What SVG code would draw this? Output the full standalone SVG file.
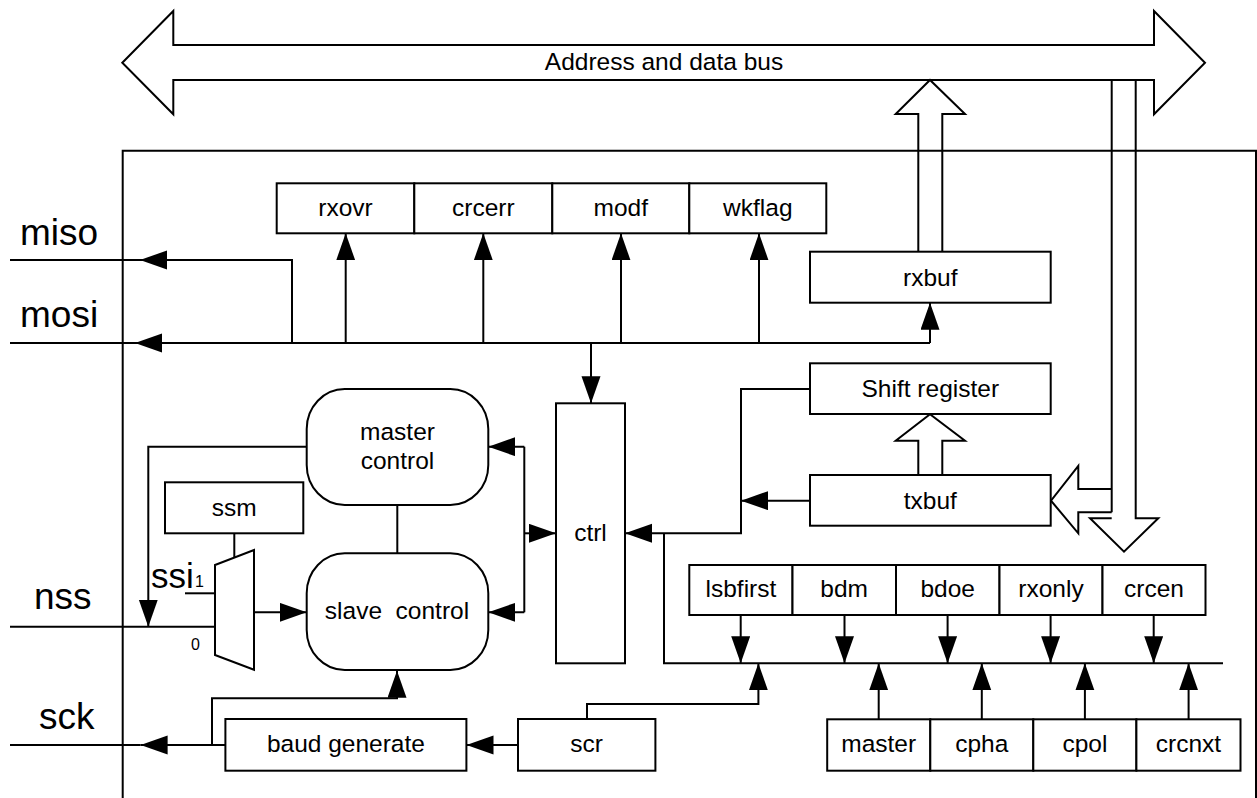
<svg xmlns="http://www.w3.org/2000/svg" width="1257" height="798" viewBox="0 0 1257 798">
<defs>
<marker id="ah" markerUnits="userSpaceOnUse" markerWidth="28" markerHeight="20" refX="27" refY="9.5" orient="auto">
<path d="M0,0 L27,9.5 L0,19 z" fill="#000"/>
</marker>
<style>
.box{fill:#fff;stroke:#000;stroke-width:2}
.ln{fill:none;stroke:#000;stroke-width:2}
.ar{fill:none;stroke:#000;stroke-width:2;marker-end:url(#ah)}
.hol{fill:none;stroke:#000;stroke-width:2;stroke-linejoin:miter}
.t{font-family:"Liberation Sans",Arial,sans-serif;font-size:24.5px;text-anchor:middle;fill:#000}
.big{font-family:"Liberation Sans",Arial,sans-serif;font-size:37px;fill:#000}
.sm{font-family:"Liberation Sans",Arial,sans-serif;font-size:16px;fill:#000}
</style>
</defs>
<rect width="1257" height="798" fill="#fff"/>

<!-- frame -->
<path class="ln" d="M122.7,798 V150.7 H1256 V798"/>

<!-- bus -->
<g id="bus">
<path class="hol" d="M122.3,62.7 L173.3,11 V45 H1154 V11 L1205,62.7 L1154,114.3 V80 H173.3 V114.3 Z"/>
<text class="t" x="664" y="70">Address and data bus</text>
</g>
<g id="bus-rx">
<path class="hol" d="M918.3,251.7 V114 H895.7 L930,80 L965,114 H942.3 V251.7"/>
</g>
<g id="bus-down">
<path class="hol" d="M1111.7,80 V512.3 M1135.7,80 V518.3 H1158.3 L1124,551.7 L1090,518.3 H1111.7"/>
</g>
<g id="bus-tx">
<path class="hol" d="M1111.7,489 H1078.3 V466 L1051,500.7 L1078.3,533.3 V512.3 H1111.7"/>
</g>
<g id="tx-shift">
<path class="hol" d="M918.3,475 V440.7 H895.7 L930,414.3 L965,440.7 H942.3 V475"/>
</g>

<!-- labels -->
<text class="big" x="20" y="245">miso</text>
<text class="big" x="20" y="327">mosi</text>
<text class="big" x="34" y="609">nss</text>
<text class="big" x="39" y="729">sck</text>

<!-- connectors -->
<g id="connectors">
<path class="ln" d="M140,260 H10"/>
<path class="ar" d="M292,343 V260 H140"/>
<path class="ln" d="M135,343 H10"/>
<path class="ar" d="M930,343 H135"/>
<path class="ar" d="M930,343 V302.7"/>
<path class="ar" d="M345.7,343 V233.3"/>
<path class="ar" d="M483.3,343 V233.3"/>
<path class="ar" d="M621,343 V233.3"/>
<path class="ar" d="M759,343 V233.3"/>
<path class="ar" d="M591,343 V403.3"/>
<path class="ar" d="M306.7,446.7 H148.3 V626.7"/>
<path class="ln" d="M10,626.7 H215"/>
<path class="ln" d="M234.3,533.3 V557.5"/>
<path class="ln" d="M185,593.3 H215"/>
<path class="ar" d="M254,612.3 H306.7"/>
<path class="ln" d="M397.3,505 V553.3"/>
<path class="ln" d="M524.3,446.7 V612.3"/>
<path class="ar" d="M524.3,446.7 H488.3"/>
<path class="ar" d="M524.3,612.3 H488.3"/>
<path class="ar" d="M524.3,533.3 H556"/>
<path class="ar" d="M810,389 H741 V533.3 H625"/>
<path class="ar" d="M810,500.7 H741"/>
<path class="ln" d="M664,533.3 V663.3 H1223"/>
<path class="ar" d="M740.7,615 V663.3"/>
<path class="ar" d="M844.5,615 V663.3"/>
<path class="ar" d="M947.6,615 V663.3"/>
<path class="ar" d="M1050.6,615 V663.3"/>
<path class="ar" d="M1153.7,615 V663.3"/>
<path class="ar" d="M878.7,719.3 V663.3"/>
<path class="ar" d="M981.8,719.3 V663.3"/>
<path class="ar" d="M1084.9,719.3 V663.3"/>
<path class="ar" d="M1188.6,719.3 V663.3"/>
<path class="ar" d="M587,719 V704 H758.4 V663.3"/>
<path class="ar" d="M518,745 H466.5"/>
<path class="ln" d="M140.6,745 H10"/>
<path class="ar" d="M225.4,745 H140.6"/>
<path class="ar" d="M212,745 V698.3 H397 V670.7"/>
</g>

<!-- status register row -->
<g id="rxovr"><rect class="box" x="276.7" y="183.3" width="137.6" height="50"/><text class="t" x="345.5" y="216">rxovr</text></g>
<g id="crcerr"><rect class="box" x="414.3" y="183.3" width="138" height="50"/><text class="t" x="483.3" y="216">crcerr</text></g>
<g id="modf"><rect class="box" x="552.3" y="183.3" width="137" height="50"/><text class="t" x="620.8" y="216">modf</text></g>
<g id="wkflag"><rect class="box" x="689.3" y="183.3" width="137" height="50"/><text class="t" x="757.8" y="216">wkflag</text></g>

<g id="rxbuf"><rect class="box" x="810" y="251.7" width="240.7" height="51"/><text class="t" x="930.3" y="285.5">rxbuf</text></g>
<g id="shiftreg"><rect class="box" x="810" y="363.3" width="240.7" height="50.7"/><text class="t" x="930.3" y="397">Shift register</text></g>
<g id="txbuf"><rect class="box" x="810" y="475" width="240.7" height="50.7"/><text class="t" x="930.3" y="508.5">txbuf</text></g>

<g id="master-control"><rect class="box" x="306.7" y="389" width="181.6" height="116" rx="38" ry="40"/><text class="t" x="397.5" y="440">master</text><text class="t" x="397.5" y="468.5">control</text></g>
<g id="slave-control"><rect class="box" x="306.7" y="553.3" width="181.6" height="116.7" rx="38" ry="40"/><text class="t" x="397" y="618.5" xml:space="preserve">slave  control</text></g>
<g id="ctrl"><rect class="box" x="556" y="403.3" width="69" height="260"/><text class="t" x="590.5" y="541">ctrl</text></g>

<g id="ssm"><rect class="box" x="165" y="482.3" width="138.3" height="51"/><text class="t" x="234.2" y="516">ssm</text></g>
<g id="mux"><path class="box" d="M215,565 L254,550 V669.7 L215,655 Z"/>
<text class="big" style="font-size:35px" x="151" y="588">ssi</text>
<text class="sm" x="195" y="587">1</text>
<text class="sm" x="191" y="650">0</text>
</g>

<g id="baud"><rect class="box" x="225.4" y="719" width="241" height="51.7"/><text class="t" x="345.9" y="752">baud generate</text></g>
<g id="scr"><rect class="box" x="518" y="719" width="137.4" height="51.7"/><text class="t" x="586.7" y="752">scr</text></g>

<g id="lsbfirst"><rect class="box" x="689.3" y="565" width="103.2" height="50"/><text class="t" x="740.9" y="597">lsbfirst</text></g>
<g id="bdm"><rect class="box" x="792.5" y="565" width="103.5" height="50"/><text class="t" x="844.2" y="597">bdm</text></g>
<g id="bdoe"><rect class="box" x="896" y="565" width="103.5" height="50"/><text class="t" x="947.7" y="597">bdoe</text></g>
<g id="rxonly"><rect class="box" x="999.5" y="565" width="103" height="50"/><text class="t" x="1051" y="597">rxonly</text></g>
<g id="crcen"><rect class="box" x="1102.5" y="565" width="103" height="50"/><text class="t" x="1154" y="597">crcen</text></g>

<g id="master"><rect class="box" x="827.2" y="719.3" width="103.1" height="51.4"/><text class="t" x="878.7" y="752">master</text></g>
<g id="cpha"><rect class="box" x="930.3" y="719.3" width="103" height="51.4"/><text class="t" x="981.8" y="752">cpha</text></g>
<g id="cpol"><rect class="box" x="1033.3" y="719.3" width="103.1" height="51.4"/><text class="t" x="1084.9" y="752">cpol</text></g>
<g id="crcnxt"><rect class="box" x="1136.4" y="719.3" width="104.1" height="51.4"/><text class="t" x="1188.5" y="752">crcnxt</text></g>
</svg>
